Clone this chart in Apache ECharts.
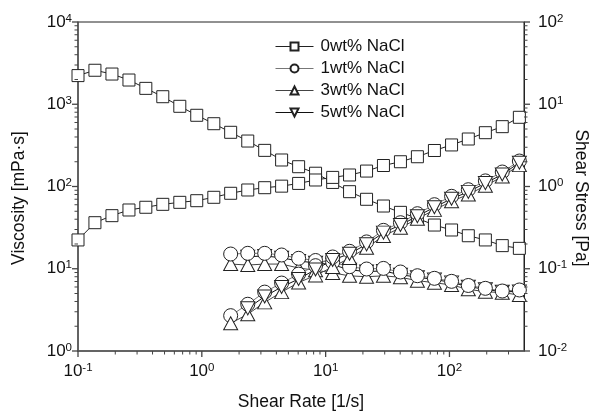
<!DOCTYPE html>
<html><head><meta charset="utf-8">
<script src="https://cdn.jsdelivr.net/npm/echarts@6/dist/echarts.min.js"></script>
<style>html,body{margin:0;padding:0;background:#fff}#c{width:590px;height:414px}</style>
</head><body><div id="c"></div>
<script>
// ---- data ----
const shearRate = [0.1, 0.137, 0.188, 0.258, 0.353, 0.484, 0.664, 0.91, 1.25, 1.71, 2.35, 3.22, 4.41, 6.05, 8.29, 11.4, 15.6, 21.4, 29.3, 40.2, 55.1, 75.6, 104, 142, 195, 267, 367];
const seriesNames = ['0wt% NaCl', '1wt% NaCl', '3wt% NaCl', '5wt% NaCl'];
// viscosity [mPa·s]
const visc0 = [2230, 2590, 2330, 1970, 1560, 1235, 944, 734, 580, 456, 357, 275, 210, 174, 145, 112, 86.5, 69.9, 57.9, 48.5, 41.0, 34.0, 29.6, 25.2, 22.4, 19.1, 17.7];
const visc1 = [null, null, null, null, null, null, null, null, null, 15.1, 15.4, 15.4, 14.7, 13.4, 12.6, 12.0, 10.6, 9.93, 10.1, 9.13, 8.23, 7.65, 7.03, 6.26, 5.78, 5.36, 5.52];
const visc3 = [null, null, null, null, null, null, null, null, null, 11.4, 11.1, 11.4, 11.4, 10.2, 9.6, 8.9, 8.2, 8.0, 8.2, 7.87, 7.16, 6.77, 6.34, 5.62, 5.26, 5.12, 4.80];
const visc5 = [null, null, null, null, null, null, null, null, null, null, 14.0, 14.3, 13.6, 12.4, 11.8, 11.2, 9.7, 9.25, 9.4, 8.46, 7.9, 7.4, 6.83, 6.05, 5.64, 5.24, 5.31];
// shear stress [Pa]
const stress0 = [0.224, 0.363, 0.442, 0.518, 0.559, 0.607, 0.642, 0.672, 0.739, 0.827, 0.907, 0.967, 1.01, 1.09, 1.20, 1.29, 1.38, 1.54, 1.80, 2.00, 2.30, 2.74, 3.20, 3.78, 4.51, 5.34, 6.94];
const stress1 = [null, null, null, null, null, null, null, null, null, 0.0269, 0.037, 0.052, 0.067, 0.086, 0.109, 0.139, 0.163, 0.212, 0.293, 0.363, 0.467, 0.601, 0.760, 0.914, 1.17, 1.50, 2.04];
const stress3 = [null, null, null, null, null, null, null, null, null, 0.0217, 0.028, 0.039, 0.052, 0.068, 0.083, 0.105, 0.135, 0.18, 0.25, 0.315, 0.405, 0.52, 0.66, 0.80, 1.02, 1.32, 1.82];
const stress5 = [null, null, null, null, null, null, null, null, null, null, 0.033, 0.046, 0.060, 0.075, 0.098, 0.128, 0.152, 0.198, 0.275, 0.34, 0.435, 0.56, 0.71, 0.86, 1.10, 1.40, 1.95];
// axes
const xRange = [0.1, 400];
const yLeftRange = [1, 10000];
const yRightRange = [0.01, 100];
const xMajorTicks = [0.1, 1, 10, 100];
const yLeftMajorTicks = [1, 10, 100, 1000, 10000];
const yRightMajorTicks = [0.01, 0.1, 1, 10, 100];
const xTitle = 'Shear Rate [1/s]';
const yLeftTitle = 'Viscosity [mPa·s]';
const yRightTitle = 'Shear Stress [Pa]';

// ---- build ----
const FONT = '"Liberation Sans", Arial, Helvetica, sans-serif';
function minorTicks(range) {
  const out = [];
  for (let e = Math.floor(Math.log10(range[0])); e <= Math.ceil(Math.log10(range[1])); e++) {
    for (let m = 2; m <= 9; m++) {
      const v = m * Math.pow(10, e);
      if (v > range[0] && v < range[1]) out.push(v);
    }
  }
  return out;
}
function pairs(ys) {
  const out = [];
  ys.forEach((y, i) => { if (y != null) out.push([shearRate[i], y]); });
  return out;
}
const labelRich = {
  b: {fontSize: 17, fontFamily: FONT, color: '#111', lineHeight: 19},
  s: {fontSize: 11.5, fontFamily: FONT, color: '#111', lineHeight: 8, verticalAlign: 'top'}
};
function powLabel(v) {
  const e = Math.log10(v);
  if (Math.abs(e - Math.round(e)) > 1e-6) return '';
  return '{b|10}{s|' + Math.round(e) + '}';
}
function mk(name, yIdx, ys, symbol, size, lineColor, rotate) {
  return {
    name, type: 'line', xAxisIndex: 0, yAxisIndex: yIdx, data: pairs(ys),
    symbol, symbolSize: size, symbolRotate: rotate || 0, showAllSymbol: true,
    lineStyle: {color: lineColor, width: 1},
    itemStyle: {color: '#fff', borderColor: '#222', borderWidth: 1},
    emphasis: {disabled: true}, animation: false, silent: true
  };
}
const tickColor = '#444';
function tickSeries(kind, yIdx, majors, minors) {
  const data = majors.map(v => [v, 6, 1.3]).concat(minors.map(v => [v, 3.5, 1]));
  return {
    type: 'custom', xAxisIndex: 0, yAxisIndex: yIdx, silent: true, animation: false, z: 5,
    data: data,
    encode: {x: -1, y: -1},
    renderItem: function (params, api) {
      const v = api.value(0), len = api.value(1), w = api.value(2);
      let p, shape;
      if (kind === 'x') {
        p = api.coord([v, yLeftRange[0]]);
        shape = {x1: p[0], y1: p[1], x2: p[0], y2: p[1] + len};
      } else if (kind === 'l') {
        p = api.coord([xRange[0], v]);
        shape = {x1: p[0], y1: p[1], x2: p[0] - len, y2: p[1]};
      } else {
        p = api.coord([xRange[1], v]);
        shape = {x1: p[0], y1: p[1], x2: p[0] + len, y2: p[1]};
      }
      return {type: 'line', shape: shape, style: {stroke: tickColor, lineWidth: w}};
    }
  };
}

const chart = echarts.init(document.getElementById('c'), null, {renderer: 'canvas'});
chart.setOption({
  animation: false,
  backgroundColor: '#fff',
  grid: {left: 78, right: 66, top: 22, bottom: 63, show: true, borderColor: '#222', borderWidth: 1, containLabel: false, outerBoundsMode: 'none'},
  legend: {
    data: seriesNames, orient: 'vertical', left: 275, top: 38, padding: 0,
    itemWidth: 38, itemHeight: 10, itemGap: 5,
    lineStyle: {width: 1},
    textStyle: {fontFamily: FONT, fontSize: 17, lineHeight: 17, color: '#111', padding: [0, 0, 0, 2]},
    selectedMode: false
  },
  graphic: [{
    type: 'text', x: 581, y: 198, rotation: -Math.PI / 2, silent: true,
    style: {text: yRightTitle, fontFamily: FONT, fontSize: 17.5, fill: '#111', align: 'center', verticalAlign: 'middle'}
  }],
  xAxis: [{
    type: 'log', logBase: 10, min: xRange[0], max: xRange[1], interval: 1, position: 'bottom',
    axisLine: {show: true, lineStyle: {color: '#555', width: 1.5}},
    axisTick: {show: false}, splitLine: {show: false}, minorTick: {show: false},
    axisLabel: {formatter: powLabel, rich: labelRich, margin: 11, showMaxLabel: false},
    name: xTitle, nameLocation: 'middle', nameGap: 42,
    nameTextStyle: {fontFamily: FONT, fontSize: 17.5, color: '#111'}
  }],
  yAxis: [{
    type: 'log', logBase: 10, min: yLeftRange[0], max: yLeftRange[1], interval: 1, position: 'left',
    axisLine: {show: true, lineStyle: {color: '#555', width: 1.5}},
    axisTick: {show: false}, splitLine: {show: false},
    axisLabel: {formatter: powLabel, rich: labelRich, margin: 6},
    name: yLeftTitle, nameLocation: 'middle', nameGap: 50, nameRotate: 90,
    nameTextStyle: {fontFamily: FONT, fontSize: 17.5, color: '#111', padding: [0, 23, 0, 0]}
  }, {
    type: 'log', logBase: 10, min: yRightRange[0], max: yRightRange[1], interval: 1, position: 'right',
    axisLine: {show: true, lineStyle: {color: '#222', width: 1}},
    axisTick: {show: false}, splitLine: {show: false},
    axisLabel: {formatter: powLabel, rich: labelRich, margin: 14}
  }],
  series: [
    mk(seriesNames[0], 0, visc0, 'rect', 12, '#222'),
    mk(seriesNames[0], 1, stress0, 'rect', 12, '#222'),
    mk(seriesNames[3], 0, visc5, 'triangle', [14, 13], '#111', 180),
    mk(seriesNames[2], 0, visc3, 'triangle', [14, 13], '#444'),
    mk(seriesNames[1], 0, visc1, 'circle', 14, '#777'),
    mk(seriesNames[1], 1, stress1, 'circle', 14, '#777'),
    mk(seriesNames[2], 1, stress3, 'triangle', [14, 13], '#444'),
    mk(seriesNames[3], 1, stress5, 'triangle', [14, 13], '#111', 180),
    tickSeries('x', 0, xMajorTicks, minorTicks(xRange)),
    tickSeries('l', 0, yLeftMajorTicks, minorTicks(yLeftRange)),
    tickSeries('r', 1, yRightMajorTicks, minorTicks(yRightRange))
  ]
});
</script>
</body></html>
